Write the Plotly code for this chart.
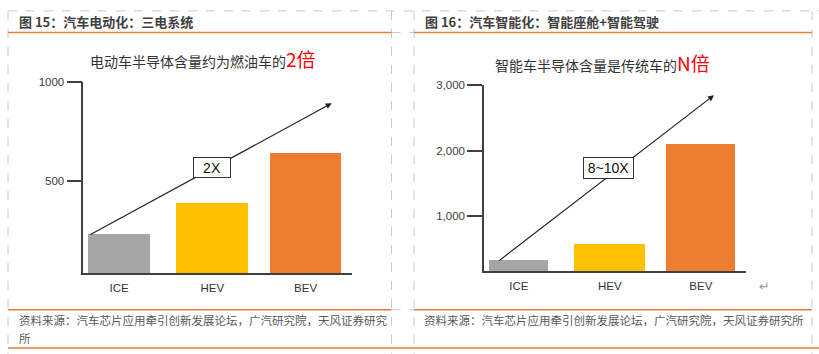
import plotly.graph_objects as go

W, H = 819, 354

# ---- data ----
categories = ["ICE", "HEV", "BEV"]
ev_values = [230, 390, 640]          # left chart (电动化)
smart_values = [345, 585, 2100]      # right chart (智能化)
ev_tickvals = [500, 1000]
ev_ticktext = ["500", "1000"]
smart_tickvals = [1000, 2000, 3000]
smart_ticktext = ["1,000", "2,000", "3,000"]
bar_colors = ["#A5A5A5", "#FFC000", "#ED7D31"]

FONT = "Liberation Sans, Arial, Noto Sans CJK SC, sans-serif"
CJK = "Noto Sans CJK SC, Liberation Sans, sans-serif"


def px(x):
    return x / W


def py(y):
    return 1 - y / H


fig = go.Figure()
fig.add_trace(go.Bar(x=categories, y=ev_values, marker_color=bar_colors,
                     width=[0.665, 0.78, 0.76], marker_line_width=0,
                     xaxis="x", yaxis="y", showlegend=False, hoverinfo="skip"))
fig.add_trace(go.Bar(x=categories, y=smart_values, marker_color=bar_colors,
                     width=[0.65, 0.78, 0.76], marker_line_width=0,
                     xaxis="x2", yaxis="y2", showlegend=False, hoverinfo="skip"))

axis_color = "#404040"
common_x = dict(showline=True, linecolor=axis_color, linewidth=1.5, ticks="",
                showgrid=False, zeroline=False, fixedrange=True,
                tickfont=dict(family=FONT, size=11.5, color="#333333"),
                ticklabelstandoff=3)
common_y = dict(showline=True, linecolor=axis_color, linewidth=1.5, ticks="outside",
                ticklen=15, tickwidth=1.5, tickcolor=axis_color,
                showgrid=False, zeroline=False, fixedrange=True,
                tickfont=dict(family=FONT, size=11.5, color="#404040"))

fig.update_layout(
    width=W, height=H,
    margin=dict(l=0, r=0, t=0, b=0),
    paper_bgcolor="white", plot_bgcolor="white",
    bargap=0,
    xaxis=dict(domain=[px(83.3), px(352)], range=[-0.384, 2.498], anchor="y", **common_x),
    yaxis=dict(domain=[py(272), py(77)], range=[31, 1000], anchor="x",
               tickvals=ev_tickvals, ticktext=ev_ticktext, **common_y),
    xaxis2=dict(domain=[px(484), px(746)], range=[-0.383, 2.496], anchor="y2", **common_x),
    yaxis2=dict(domain=[py(270), py(80)], range=[164, 3000], anchor="x2",
                tickvals=smart_tickvals, ticktext=smart_ticktext, **common_y),
)

shapes = []
dash = dict(color="#C8C8C8", width=1, dash="dash")
orange = dict(color="#ED7D31", width=1.5)
# dashed frame
shapes.append(dict(type="line", xref="paper", yref="paper", x0=px(8), x1=px(819), y0=py(5), y1=py(5), line=dash))
for xv in [8, 391.5, 414, 812]:
    shapes.append(dict(type="line", xref="paper", yref="paper", x0=px(xv), x1=px(xv), y0=py(5), y1=py(354), line=dash))
# dashed segments in the gap
shapes.append(dict(type="line", xref="paper", yref="paper", x0=px(391.5), x1=px(414), y0=py(27), y1=py(27), line=dash))
shapes.append(dict(type="line", xref="paper", yref="paper", x0=px(391.5), x1=px(414), y0=py(309), y1=py(309), line=dash))
# orange lines
for (a, b) in [(8, 391.5), (414, 812)]:
    shapes.append(dict(type="line", xref="paper", yref="paper", x0=px(a), x1=px(b), y0=py(27), y1=py(27), line=orange))
    shapes.append(dict(type="line", xref="paper", yref="paper", x0=px(a), x1=px(b), y0=py(309), y1=py(309), line=orange))
shapes.append(dict(type="line", xref="paper", yref="paper", x0=px(8), x1=px(819), y0=py(348), y1=py(348), line=orange))
fig.update_layout(shapes=shapes)

ann = []
# headers
ann.append(dict(text="<b>图 15：汽车电动化：三电系统</b>", x=px(17), y=py(16), xref="paper", yref="paper",
                xanchor="left", yanchor="middle", showarrow=False,
                font=dict(family=CJK, size=13, color="#3F3F3F")))
ann.append(dict(text="<b>图 16：汽车智能化：智能座舱+智能驾驶</b>", x=px(423), y=py(16), xref="paper", yref="paper",
                xanchor="left", yanchor="middle", showarrow=False,
                font=dict(family=CJK, size=13, color="#3F3F3F")))
# subtitles
ann.append(dict(text="电动车半导体含量约为燃油车的<span style='color:#FF0000;font-size:19px'>2倍</span>",
                x=px(203), y=py(53), xref="paper", yref="paper", xanchor="center", yanchor="middle",
                showarrow=False, font=dict(family=CJK, size=14, color="#333333")))
ann.append(dict(text="智能车半导体含量是传统车的<span style='color:#FF0000;font-size:19px'>N倍</span>",
                x=px(602.5), y=py(57), xref="paper", yref="paper", xanchor="center", yanchor="middle",
                showarrow=False, font=dict(family=CJK, size=14, color="#333333")))
# arrows
ann.append(dict(text="", x=px(331.7), y=py(99), xref="paper", yref="paper", showarrow=True,
                ax=89 - 331.7, ay=231 - 99, axref="pixel", ayref="pixel",
                arrowhead=2, arrowsize=1, arrowwidth=1.2, arrowcolor="#222222",
                standoff=0, startstandoff=0))
ann.append(dict(text="", x=px(714), y=py(90.7), xref="paper", yref="paper", showarrow=True,
                ax=497.7 - 714, ay=257.3 - 90.7, axref="pixel", ayref="pixel",
                arrowhead=2, arrowsize=1, arrowwidth=1.2, arrowcolor="#222222",
                standoff=0, startstandoff=0))
# boxes
ann.append(dict(text="2X", x=px(212.2), y=py(163.8), xref="paper", yref="paper", showarrow=False,
                xanchor="center", yanchor="middle", width=36, height=19, borderpad=0,
                bgcolor="white", bordercolor="#333333", borderwidth=1,
                font=dict(family=FONT, size=14, color="#111111")))
ann.append(dict(text="8~10X", x=px(608.3), y=py(164.5), xref="paper", yref="paper", showarrow=False,
                xanchor="center", yanchor="middle", width=49, height=20, borderpad=0,
                bgcolor="white", bordercolor="#333333", borderwidth=1,
                font=dict(family=FONT, size=14, color="#111111")))
# sources
src_font = dict(family=CJK, size=11.5, color="#595959")
ann.append(dict(text="资料来源：汽车芯片应用牵引创新发展论坛，广汽研究院，天风证券研究", x=px(17), y=py(319),
                xref="paper", yref="paper", xanchor="left", yanchor="middle", showarrow=False, font=src_font))
ann.append(dict(text="所", x=px(17), y=py(338), xref="paper", yref="paper", xanchor="left", yanchor="middle",
                showarrow=False, font=src_font))
ann.append(dict(text="资料来源：汽车芯片应用牵引创新发展论坛，广汽研究院，天风证券研究所", x=px(422), y=py(319),
                xref="paper", yref="paper", xanchor="left", yanchor="middle", showarrow=False, font=src_font))
# return mark
ann.append(dict(text="↵", x=px(764), y=py(285), xref="paper", yref="paper", xanchor="center", yanchor="middle",
                showarrow=False, font=dict(family="DejaVu Sans", size=13, color="#9A9A9A")))
fig.update_layout(annotations=ann)

fig.write_html("out.html")
